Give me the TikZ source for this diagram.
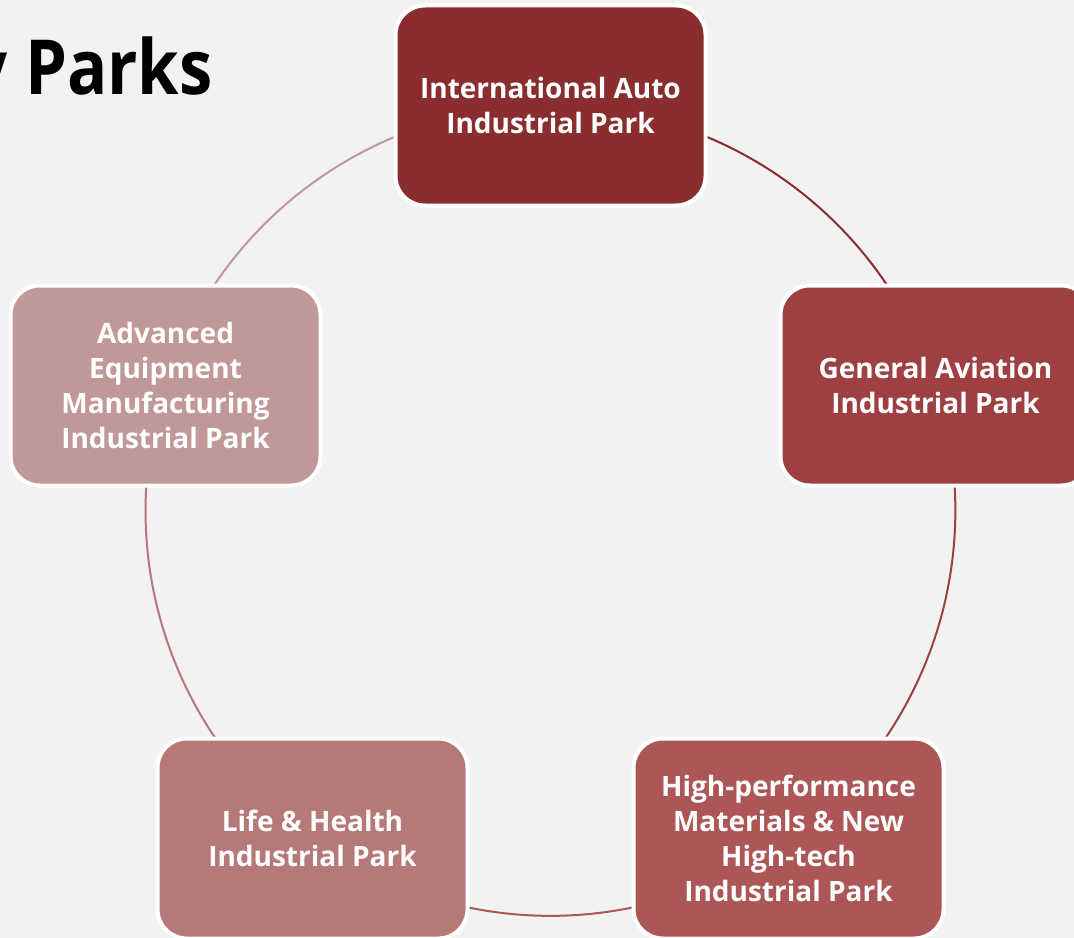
\documentclass[tikz,border=0pt]{standalone}
\usepackage{fontspec}
\setmainfont{Open Sans}
\pgfdeclarelayer{bglayer}
\pgfdeclarelayer{arcs}
\pgfsetlayers{bglayer,arcs,main}
\definecolor{bg}{HTML}{F2F2F2}
\definecolor{c1}{HTML}{8A2D2F}
\definecolor{c2}{HTML}{9E4041}
\definecolor{c3}{HTML}{AD5657}
\definecolor{c4}{HTML}{B47978}
\definecolor{c5}{HTML}{BF9897}
\begin{document}
\begin{tikzpicture}[x=0.75pt,y=-0.75pt,
  park/.style={draw=white, line width=3pt, rounded corners=22pt,
    minimum width=232.5pt, minimum height=150pt, inner sep=0pt,
    text=white, align=center,
    font=\bfseries\fontsize{21}{26.25}\selectfont},
  ring/.style={line width=1.5pt}]
\begin{pgfonlayer}{bglayer}
\fill[bg] (0,0) rectangle (1074,938);
\end{pgfonlayer}
\useasboundingbox (0,0) rectangle (1074,938);

\node[anchor=base east, inner sep=0pt, font=\bfseries\fontsize{57}{60}\selectfont] (title) at (213,95) {\scalebox{0.88}[1]{y Parks}};

\node[park, fill=c1] (auto)  at (550.5,105.5) {International Auto\\Industrial Park};
\node[park, fill=c2] (avia)  at (935.5,385.5) {General Aviation\\Industrial Park};
\node[park, fill=c3] (mat)   at (788.5,838.5) {High-performance\\Materials \& New\\High-tech\\Industrial Park};
\node[park, fill=c4] (life)  at (312.5,838.5) {Life \& Health\\Industrial Park};
\node[park, fill=c5] (equip) at (165.5,385.5) {Advanced\\Equipment\\Manufacturing\\Industrial Park};

\begin{pgfonlayer}{arcs}
\draw[ring, c1] (auto.center)  arc[start angle=-90, end angle=-18, radius=405];
\draw[ring, c2] (avia.center)  arc[start angle=-18, end angle=54,  radius=405];
\draw[ring, c3] (mat.center)   arc[start angle=54,  end angle=126, radius=405];
\draw[ring, c4] (life.center)  arc[start angle=126, end angle=198, radius=405];
\draw[ring, c5] (equip.center) arc[start angle=198, end angle=270, radius=405];
\end{pgfonlayer}
\end{tikzpicture}
\end{document}
